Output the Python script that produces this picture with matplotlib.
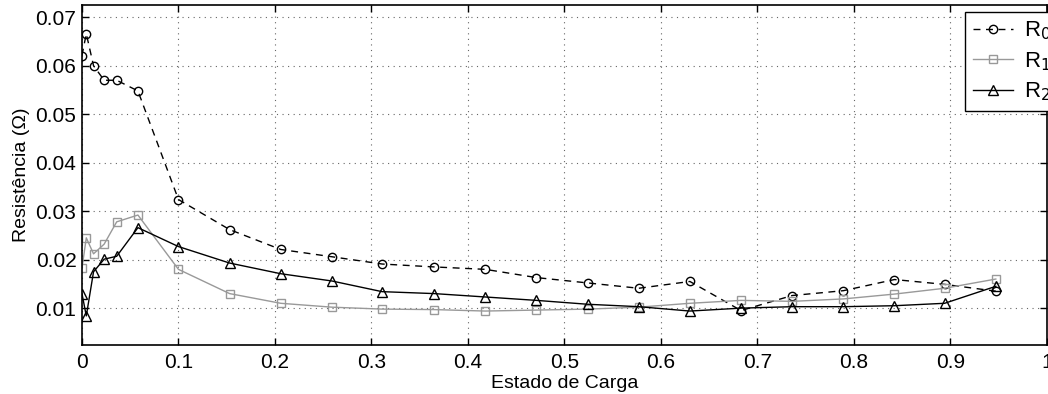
import matplotlib
matplotlib.use("Agg")
import matplotlib.pyplot as plt

plt.rcParams['font.family'] = ['Liberation Sans', 'DejaVu Sans']

# Estado de carga (SoC) e resistencias estimadas
soc = [0.0, 0.0045, 0.012, 0.023, 0.036, 0.058, 0.100, 0.153, 0.206, 0.259,
       0.311, 0.365, 0.418, 0.471, 0.524, 0.577, 0.630, 0.683, 0.736, 0.789,
       0.842, 0.894, 0.947]
r0 = [0.0621, 0.0666, 0.0600, 0.0570, 0.0570, 0.0548, 0.0324, 0.0262, 0.0221,
      0.0206, 0.0191, 0.0185, 0.0180, 0.0163, 0.0152, 0.0141, 0.0155, 0.0095,
      0.0126, 0.0136, 0.0159, 0.0149, 0.0135]
r1 = [0.0182, 0.0245, 0.0212, 0.0232, 0.0278, 0.0292, 0.0180, 0.0130, 0.0110,
      0.0102, 0.0098, 0.0097, 0.0094, 0.0096, 0.0098, 0.0102, 0.0110, 0.0116,
      0.0114, 0.0119, 0.0129, 0.0141, 0.0160]
r2 = [0.0130, 0.0084, 0.0175, 0.0201, 0.0207, 0.0266, 0.0227, 0.0193, 0.0171,
      0.0156, 0.0134, 0.0130, 0.0123, 0.0116, 0.0108, 0.0103, 0.0094, 0.0100,
      0.0103, 0.0103, 0.0105, 0.0110, 0.0145]

fig = plt.figure(figsize=(10.48, 3.94), dpi=100)
ax = fig.add_axes([0.0782, 0.1244, 0.9208, 0.8626])

ax.plot(soc, r0, '--', color='black', lw=1, marker='o', ms=6,
        mfc='none', mec='black', label='R$_0$', dashes=(5, 4))
ax.plot(soc, r1, '-', color='#999999', lw=1, marker='s', ms=5.5,
        mfc='none', mec='#999999', label='R$_1$')
ax.plot(soc, r2, '-', color='black', lw=1, marker='^', ms=7,
        mfc='none', mec='black', label='R$_2$')

ax.set_xlim(0, 1)
ax.set_ylim(0.0024, 0.0725)
ax.set_xticks([0, 0.1, 0.2, 0.3, 0.4, 0.5, 0.6, 0.7, 0.8, 0.9, 1])
ax.set_xticklabels(['0', '0.1', '0.2', '0.3', '0.4', '0.5', '0.6', '0.7',
                    '0.8', '0.9', '1'])
ax.set_yticks([0.01, 0.02, 0.03, 0.04, 0.05, 0.06, 0.07])

ax.grid(True, linestyle=(0, (1, 4)), color='#666666', lw=0.8)
ax.tick_params(direction='in', top=True, right=True, length=5, width=1,
               labelsize=15)
ax.tick_params(axis='y', pad=4)
ax.tick_params(axis='x', pad=6)
for s in ax.spines.values():
    s.set_linewidth(1.2)

ax.set_xlabel('Estado de Carga', fontsize=14, labelpad=2)
ax.set_ylabel('Resistência (Ω)', fontsize=14, labelpad=4)

leg = ax.legend(loc='upper left', bbox_to_anchor=(965 / 1048, 1 - 12 / 394),
                bbox_transform=fig.transFigure, borderaxespad=0,
                fontsize=16, fancybox=False, edgecolor='black',
                framealpha=1, handlelength=1.8, handletextpad=0.5,
                labelspacing=0.35, borderpad=0.35)
leg.get_frame().set_linewidth(1)

fig.savefig('out.png', dpi=100)
